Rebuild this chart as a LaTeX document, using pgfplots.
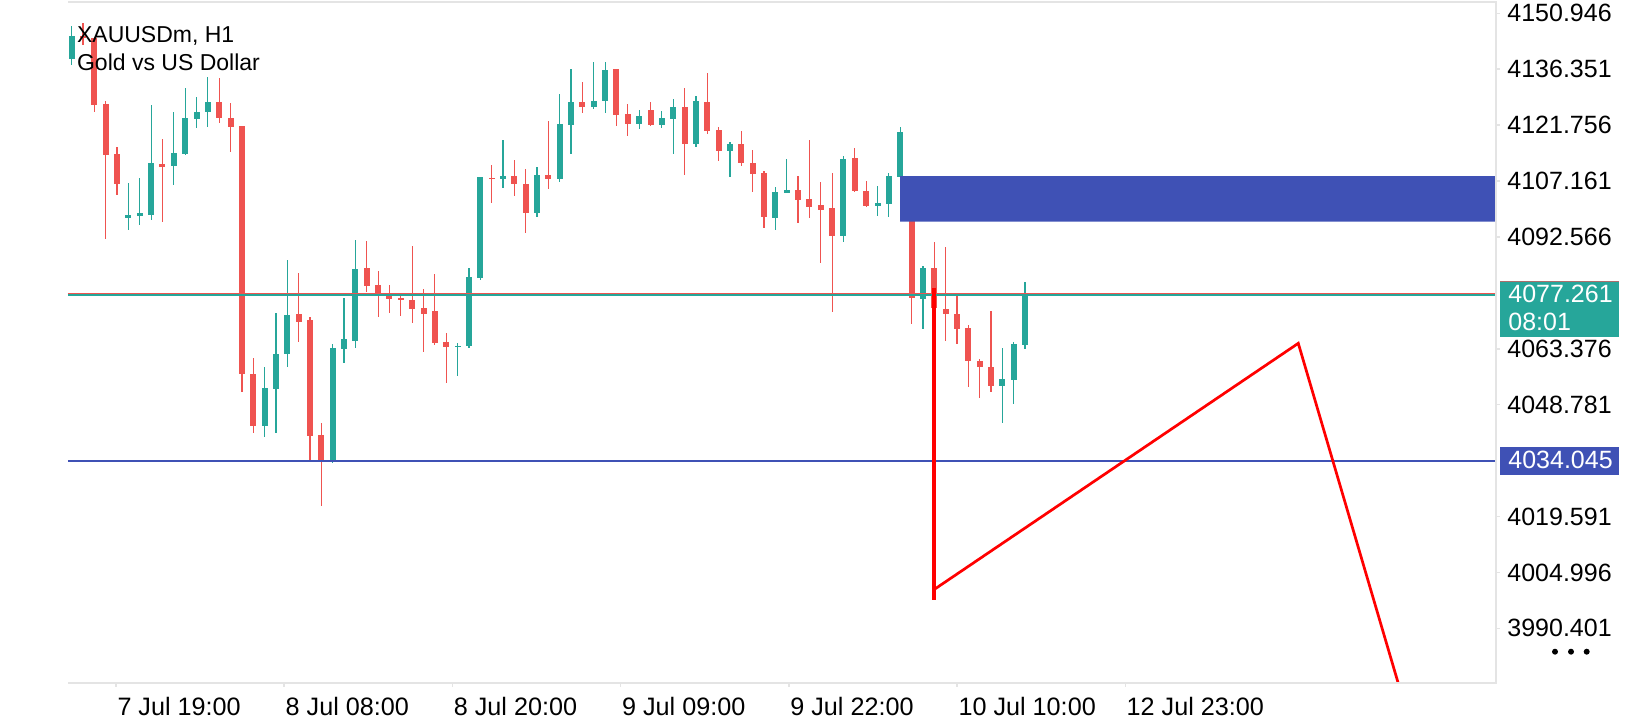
\documentclass[border=0pt]{standalone}
\usepackage{pgfplots}
\pgfplotsset{compat=1.18}
\usepackage{pgfplotstable}
\usepackage{fontspec}
\setmainfont{Liberation Sans}
\definecolor{bull}{HTML}{26A69A}
\definecolor{bear}{HTML}{EF5350}
\definecolor{zone}{HTML}{3F51B5}
\definecolor{framec}{HTML}{E4E4E4}

\pgfplotstableread{
x o h l c
0 4138.94 4147.63 4137.37 4145.02
5 4097.59 4106.57 4094.38 4098.29
6 4098.11 4108.03 4095.68 4098.89
7 4098.29 4127.01 4096.99 4111.95
9 4111.08 4125.26 4106.12 4114.40
10 4114.22 4131.52 4114.09 4123.69
11 4123.35 4129.17 4120.93 4125.26
12 4125.26 4134.40 4121.34 4127.87
17 4043.29 4058.69 4040.42 4053.21
18 4052.87 4072.79 4041.46 4062.01
19 4061.93 4086.55 4058.69 4072.19
23 4034.15 4064.54 4033.47 4063.65
24 4063.31 4076.70 4059.74 4065.92
25 4065.40 4091.77 4063.65 4084.27
34 4063.91 4064.80 4056.34 4064.17
35 4064.17 4084.54 4063.65 4082.19
36 4081.92 4108.29 4081.32 4108.29
38 4107.69 4117.87 4105.42 4108.55
41 4098.89 4110.90 4097.85 4108.73
43 4107.69 4129.88 4106.99 4122.05
44 4121.79 4136.41 4114.22 4127.87
46 4126.56 4138.31 4125.89 4128.13
47 4128.13 4138.31 4125.00 4136.14
50 4122.05 4125.70 4120.74 4124.14
52 4121.79 4125.44 4121.08 4123.69
53 4123.35 4128.57 4114.22 4126.56
55 4116.83 4129.36 4116.12 4128.13
58 4115.00 4117.27 4108.29 4116.83
62 4097.59 4105.68 4094.38 4104.38
63 4104.11 4112.91 4104.11 4104.82
68 4092.81 4113.77 4091.32 4112.91
71 4100.72 4105.86 4098.03 4101.35
72 4101.16 4109.18 4097.85 4108.47
73 4108.29 4121.19 4108.29 4120.04
75 4076.36 4085.06 4068.53 4084.54
82 4053.73 4063.49 4043.92 4055.48
83 4055.30 4065.22 4048.95 4064.62
84 4064.36 4080.88 4063.23 4077.41
}\greentab

\pgfplotstableread{
x o h l c
1 4145.02 4148.49 4142.67 4144.50
2 4144.63 4144.76 4125.18 4127.01
3 4127.27 4128.13 4091.95 4113.96
4 4114.22 4116.12 4103.51 4106.46
8 4111.68 4118.13 4096.54 4110.90
13 4127.87 4133.98 4122.23 4123.69
14 4123.69 4127.61 4114.82 4121.34
15 4121.53 4121.53 4052.17 4056.71
16 4056.79 4061.04 4041.46 4043.29
20 4072.37 4083.23 4065.22 4070.44
21 4070.88 4071.74 4034.34 4040.68
22 4040.86 4044.07 4022.33 4034.34
26 4084.54 4091.51 4078.27 4079.76
27 4080.02 4083.67 4071.74 4077.23
28 4077.85 4080.02 4072.79 4076.36
29 4076.70 4077.41 4071.93 4076.10
30 4076.10 4090.20 4070.18 4073.75
31 4074.09 4078.97 4062.61 4072.45
32 4073.23 4082.89 4064.36 4064.96
33 4065.22 4067.57 4054.36 4063.91
37 4108.03 4111.35 4101.50 4107.69
39 4108.55 4112.65 4103.25 4106.31
40 4106.39 4110.30 4093.67 4098.89
42 4108.73 4122.83 4105.08 4107.69
45 4127.87 4133.09 4125.00 4126.56
48 4136.41 4136.41 4121.53 4124.40
49 4124.66 4127.27 4118.92 4122.05
51 4125.70 4127.87 4121.53 4121.79
54 4126.56 4131.52 4108.73 4116.83
56 4127.87 4135.28 4119.44 4120.30
57 4120.48 4121.34 4112.39 4115.00
59 4116.83 4120.22 4111.09 4111.95
60 4111.95 4115.26 4104.38 4108.92
61 4109.18 4109.78 4094.98 4097.85
64 4104.82 4108.55 4096.28 4102.21
65 4102.47 4117.87 4097.59 4100.46
66 4100.90 4106.99 4085.84 4099.60
67 4100.20 4109.33 4073.05 4092.81
69 4113.25 4115.70 4104.38 4104.64
70 4104.64 4107.25 4100.46 4100.64
74 4108.29 4108.47 4069.84 4076.55
76 4084.54 4091.17 4072.97 4074.09
77 4073.75 4090.02 4065.48 4072.37
78 4072.45 4077.59 4064.62 4068.53
79 4068.79 4069.58 4053.31 4060.26
80 4060.26 4060.62 4050.44 4058.69
81 4058.69 4073.31 4052.17 4053.73
}\redtab

\begin{document}
\begin{tikzpicture}
\useasboundingbox (0,0) rectangle (820pt,360pt);
\begin{axis}[
  at={(34pt,18.5pt)}, anchor=south west,
  scale only axis, width=714pt, height=340.5pt,
  xmin=-0.326, xmax=125.49, ymin=3976.12, ymax=4153.90,
  clip=false,
  axis line style={draw=none},
  scaled ticks=false,
  xtick={3.912,18.73,33.55,48.37,63.19,78.01,92.83},
  xticklabels={7 Jul 19:00,8 Jul 08:00,8 Jul 20:00,9 Jul 09:00,9 Jul 22:00,10 Jul 10:00,12 Jul 23:00},
  ytick={3990.401,4004.996,4019.591,4048.781,4063.376,4092.566,4107.161,4121.756,4136.351,4150.946},
  yticklabels={3990.401,4004.996,4019.591,4048.781,4063.376,4092.566,4107.161,4121.756,4136.351,4150.946},
  xtick pos=bottom, ytick pos=right, yticklabel pos=right,
  tick align=outside, major tick length=2pt,
  tick style={draw=framec, line width=0.8pt},
  yticklabel style={anchor=west, inner sep=0pt, xshift=3.5pt, font=\fontsize{12.5}{14}\selectfont},
  xticklabel style={anchor=north west, inner sep=0pt, yshift=-5pt, xshift=0.5pt, font=\fontsize{12.6}{14}\selectfont},
]
% wicks
\addplot[draw=none, mark=none, forget plot, error bars/.cd, y dir=both, y explicit, error mark=none,
  error bar style={draw=bull, line width=0.6pt}]
  table[x=x, y expr={(\thisrow{h}+\thisrow{l})/2}, y error expr={(\thisrow{h}-\thisrow{l})/2}] {\greentab};
\addplot[draw=none, mark=none, forget plot, error bars/.cd, y dir=both, y explicit, error mark=none,
  error bar style={draw=bear, line width=0.6pt}]
  table[x=x, y expr={(\thisrow{h}+\thisrow{l})/2}, y error expr={(\thisrow{h}-\thisrow{l})/2}] {\redtab};
% bodies
\addplot[draw=none, mark=none, forget plot, error bars/.cd, y dir=both, y explicit, error mark=none,
  error bar style={draw=bull, line width=3pt}]
  table[x=x, y expr={(\thisrow{o}+\thisrow{c})/2}, y error expr={abs(\thisrow{c}-\thisrow{o})/2}] {\greentab};
\addplot[draw=none, mark=none, forget plot, error bars/.cd, y dir=both, y explicit, error mark=none,
  error bar style={draw=bear, line width=3pt}]
  table[x=x, y expr={(\thisrow{o}+\thisrow{c})/2}, y error expr={abs(\thisrow{o}-\thisrow{c})/2}] {\redtab};
% price lines
\addplot[bear, line width=0.5pt, forget plot] coordinates {(-0.326,4077.93) (125.49,4077.93)};
\addplot[bull, line width=1pt, forget plot] coordinates {(-0.326,4077.45) (125.49,4077.45)};
\addplot[zone, line width=1pt, forget plot] coordinates {(-0.326,4034.2) (125.49,4034.2)};
% zone rectangle
\addplot[fill=zone, draw=none, forget plot] coordinates {(72.98,4096.54) (125.49,4096.54) (125.49,4108.47) (72.98,4108.47) (72.98,4096.54)};
% red zigzag
\addplot[red, line width=1.75pt, forget plot] coordinates {(75.97,4079.24) (75.97,3997.79)};
\addplot[red, line width=1.35pt, forget plot, line join=miter] coordinates {(76.05,4000.66) (108.07,4064.80) (116.87,3976.12)};
% frame
\draw[framec, line width=1.1pt] (rel axis cs:0,1) -- (rel axis cs:1,1) -- (rel axis cs:1,0) -- (rel axis cs:0,0);
\end{axis}
% title
\node[anchor=base west, inner sep=0pt, font=\fontsize{11.5}{13}\selectfont] at (38.35pt,338.85pt) {XAUUSDm, H1};
\node[anchor=base west, inner sep=0pt, font=\fontsize{11.5}{13}\selectfont] at (38.35pt,325pt) {Gold vs US Dollar};
% price tags
\fill[bull] (750pt,191.65pt) rectangle (809.5pt,219.5pt);
\draw[gray!60!bear, line width=0.6pt] (750pt,219.4pt) -- (809.5pt,219.4pt);
\node[anchor=base west, inner sep=0pt, text=white, font=\fontsize{12.5}{14}\selectfont] at (754pt,208.85pt) {4077.261};
\node[anchor=base west, inner sep=0pt, text=white, font=\fontsize{12.5}{14}\selectfont] at (754pt,195pt) {08:01};
\fill[zone] (750pt,122.5pt) rectangle (809.5pt,136.35pt);
\node[anchor=base west, inner sep=0pt, text=white, font=\fontsize{12.5}{14}\selectfont] at (754pt,125.85pt) {4034.045};
% menu dots
\fill (777.5pt,34.15pt) circle (1.5pt);
\fill (785.5pt,34.15pt) circle (1.5pt);
\fill (793.35pt,34.15pt) circle (1.5pt);
\end{tikzpicture}
\end{document}
